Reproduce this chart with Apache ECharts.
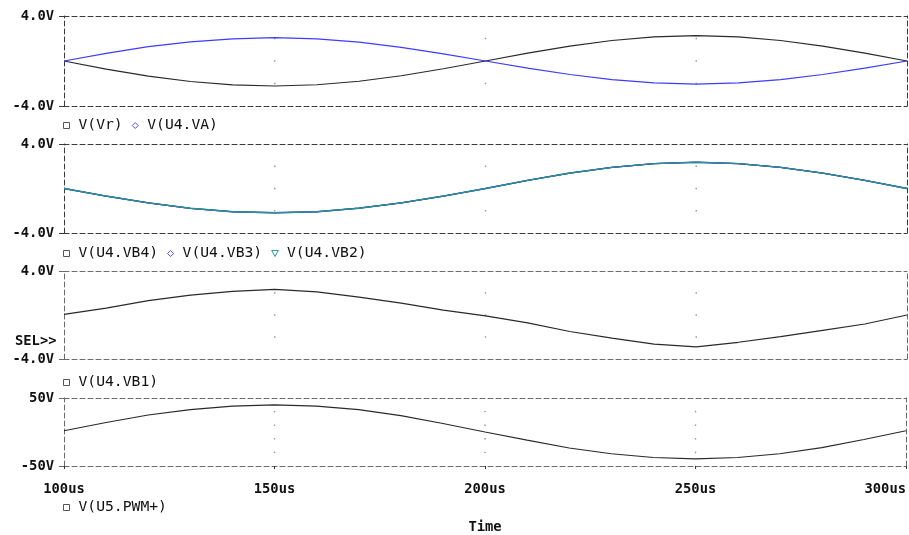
<!DOCTYPE html>
<html>
<head>
<meta charset="utf-8">
<script src="https://cdn.jsdelivr.net/npm/echarts@6/dist/echarts.min.js"></script>
<style>
  html, body { margin: 0; padding: 0; background: #fff; }
  #chart { width: 909px; height: 535px; }
</style>
</head>
<body>
<div id="chart"></div>
<script>
// Transient simulation, 100us .. 300us, one sample every 10us
const timeUs = [100, 110, 120, 130, 140, 150, 160, 170, 180, 190, 200,
                210, 220, 230, 240, 250, 260, 270, 280, 290, 300];

// Panel 1
const vVr  = [0, -0.72, -1.35, -1.82, -2.12, -2.22, -2.11, -1.80, -1.31, -0.69, 0,
              0.70, 1.32, 1.82, 2.14, 2.25, 2.14, 1.82, 1.32, 0.70, 0];
const vU4VA = [0, 0.68, 1.27, 1.70, 1.97, 2.07, 1.97, 1.67, 1.21, 0.64, 0,
               -0.63, -1.20, -1.66, -1.95, -2.05, -1.95, -1.66, -1.20, -0.63, 0];

// Panel 2
const vU4VB4 = [0, -0.68, -1.29, -1.78, -2.09, -2.18, -2.09, -1.77, -1.29, -0.68, 0,
                0.73, 1.39, 1.90, 2.24, 2.36, 2.24, 1.90, 1.38, 0.73, 0];
const vU4VB3 = [0, -0.68, -1.29, -1.78, -2.09, -2.18, -2.09, -1.77, -1.29, -0.68, 0,
                0.73, 1.39, 1.90, 2.24, 2.36, 2.24, 1.90, 1.38, 0.73, 0];
const vU4VB2 = [0, -0.68, -1.29, -1.78, -2.09, -2.18, -2.09, -1.77, -1.29, -0.68, 0,
                0.73, 1.39, 1.90, 2.24, 2.36, 2.24, 1.90, 1.38, 0.73, 0];

// Panel 3
const vU4VB1 = [0.05, 0.62, 1.30, 1.80, 2.15, 2.33, 2.10, 1.62, 1.08, 0.45, -0.08,
                -0.72, -1.50, -2.10, -2.65, -2.90, -2.48, -1.97, -1.40, -0.82, 0];

// Panel 4
const vU5PWM = [1.8, 14, 25, 33, 38, 40, 38, 33, 24, 12.5, 0,
                -12, -23.5, -32, -37.5, -39.5, -37.5, -32, -23, -11, 1.8];

// Axis ticks
const xTicks = [100, 150, 200, 250, 300];
const xGridVals = [150, 200, 250];
const yTicksV = [-4, 4];
const yTicksPwm = [-50, 50];
const yGridV = [-2, 0, 2];
const yGridPwm = [-30, -10, 10, 30];

const MONO = 'DejaVu Sans Mono';
const ICON_SQUARE = 'path://M0,0H10V10H0Z';
const ICON_DIAMOND = 'path://M5,0L10,5L5,10L0,5Z';
const ICON_TRI_DOWN = 'path://M0,0H10L5,9Z';

const panels = [
  { top: 16,  height: 90, min: -4,  max: 4,  ticks: yTicksV,   grid: yGridV,   border: '#3a3a3a', legendTop: 117.5,
    fmt: v => v.toFixed(1) + 'V',
    series: [
      { name: 'V(Vr)',    data: vVr,   color: '#2a2a2a', icon: ICON_SQUARE,  iconColor: '#555', width: 1.2 },
      { name: 'V(U4.VA)', data: vU4VA, color: '#3c3cff', icon: ICON_DIAMOND, iconColor: '#5050ff', width: 1.2 }
    ] },
  { top: 144, height: 89, min: -4,  max: 4,  ticks: yTicksV,   grid: yGridV,   border: '#3a3a3a', legendTop: 245.5,
    fmt: v => v.toFixed(1) + 'V',
    series: [
      { name: 'V(U4.VB4)', data: vU4VB4, color: '#2a2a2a', icon: ICON_SQUARE,   iconColor: '#555', width: 1.2 },
      { name: 'V(U4.VB3)', data: vU4VB3, color: '#3c3cff', icon: ICON_DIAMOND,  iconColor: '#5050ff', width: 1.3 },
      { name: 'V(U4.VB2)', data: vU4VB2, color: '#2a9090', icon: ICON_TRI_DOWN, iconColor: '#2a9a9a', width: 1.4 }
    ] },
  { top: 271, height: 88, min: -4,  max: 4,  ticks: yTicksV,   grid: yGridV,   border: '#6a6a6a', legendTop: 374.5,
    fmt: v => v.toFixed(1) + 'V',
    series: [
      { name: 'V(U4.VB1)', data: vU4VB1, color: '#2a2a2a', icon: ICON_SQUARE, iconColor: '#555', width: 1.2 }
    ] },
  { top: 398, height: 72, min: -50, max: 50, ticks: yTicksPwm, grid: yGridPwm, border: '#6a6a6a', legendTop: 499.5,
    fmt: v => v + 'V',
    series: [
      { name: 'V(U5.PWM+)', data: vU5PWM, color: '#2a2a2a', icon: ICON_SQUARE, iconColor: '#555', width: 1.2 }
    ] }
];

const labelFont = { fontFamily: MONO, fontWeight: 'bold', fontSize: 13.8, color: '#111' };

const grids = [], xAxes = [], yAxes = [], series = [], legends = [];

panels.forEach((p, i) => {
  const last = i === panels.length - 1;
  grids.push({ left: 64, right: 2, top: p.top, height: p.height, containLabel: false });
  const dashed = { show: true, onZero: false, lineStyle: { color: p.border, width: 1, type: [5, 3] } };

  // bottom time axis (carries the data)
  xAxes.push({
    type: 'value', gridIndex: i, position: 'bottom', min: 100, max: 300,
    axisLine: dashed,
    axisTick: last ? { show: true, length: 3, customValues: xTicks, lineStyle: { color: '#333' } } : { show: false },
    axisLabel: last ? Object.assign({ show: true, margin: 16, customValues: xTicks,
      formatter: v => v + 'us', alignMinLabel: 'center', alignMaxLabel: 'right' }, labelFont) : { show: false },
    splitLine: { show: false },
    name: last ? 'Time' : '', nameLocation: 'middle', nameGap: 54,
    nameTextStyle: labelFont
  });
  // top border
  xAxes.push({
    type: 'value', gridIndex: i, position: 'top', min: 100, max: 300,
    axisLine: dashed, axisTick: { show: false }, axisLabel: { show: false }, splitLine: { show: false }
  });
  // left voltage axis
  yAxes.push({
    type: 'value', gridIndex: i, position: 'left', min: p.min, max: p.max,
    axisLine: dashed,
    axisTick: { show: true, length: 5, customValues: p.ticks, lineStyle: { color: p.border } },
    axisLabel: Object.assign({ show: true, margin: 10, customValues: p.ticks, formatter: p.fmt }, labelFont),
    splitLine: { show: false }
  });
  // right border
  yAxes.push({
    type: 'value', gridIndex: i, position: 'right', min: p.min, max: p.max,
    axisLine: dashed, axisTick: { show: false }, axisLabel: { show: false }, splitLine: { show: false }
  });

  const xIdx = i * 2, yIdx = i * 2;

  // dotted grid marks at the division crossings
  const dots = [];
  xGridVals.forEach(x => p.grid.forEach(y => dots.push([x, y])));
  series.push({
    type: 'scatter', xAxisIndex: xIdx, yAxisIndex: yIdx, data: dots,
    symbol: 'rect', symbolSize: 1.4, itemStyle: { color: '#777' }, silent: true, z: 1
  });

  p.series.forEach(s => {
    series.push({
      type: 'line', name: s.name, xAxisIndex: xIdx, yAxisIndex: yIdx,
      data: timeUs.map((t, k) => [t, s.data[k]]),
      showSymbol: false, symbol: 'none',
      lineStyle: { color: s.color, width: s.width }, itemStyle: { color: s.color },
      z: 3
    });
  });

  legends.push({
    left: 63, top: p.legendTop, orient: 'horizontal', padding: 0,
    itemWidth: 14, itemHeight: 6, itemGap: 9, selectedMode: false,
    textStyle: { fontFamily: MONO, fontSize: 14.7, color: '#111', lineHeight: 16 },
    data: p.series.map(s => ({
      name: s.name, icon: s.icon,
      itemStyle: { color: '#fff', borderColor: s.iconColor, borderWidth: 1 }
    }))
  });
});

const chart = echarts.init(document.getElementById('chart'), null, { renderer: 'canvas' });
chart.setOption({
  animation: false,
  backgroundColor: '#fff',
  grid: grids,
  xAxis: xAxes,
  yAxis: yAxes,
  legend: legends,
  series: series,
  graphic: [{
    type: 'text', left: 15, top: 334,
    style: { text: 'SEL>>', font: 'bold 13.8px "DejaVu Sans Mono"', fill: '#111' }
  }]
});
</script>
</body>
</html>
